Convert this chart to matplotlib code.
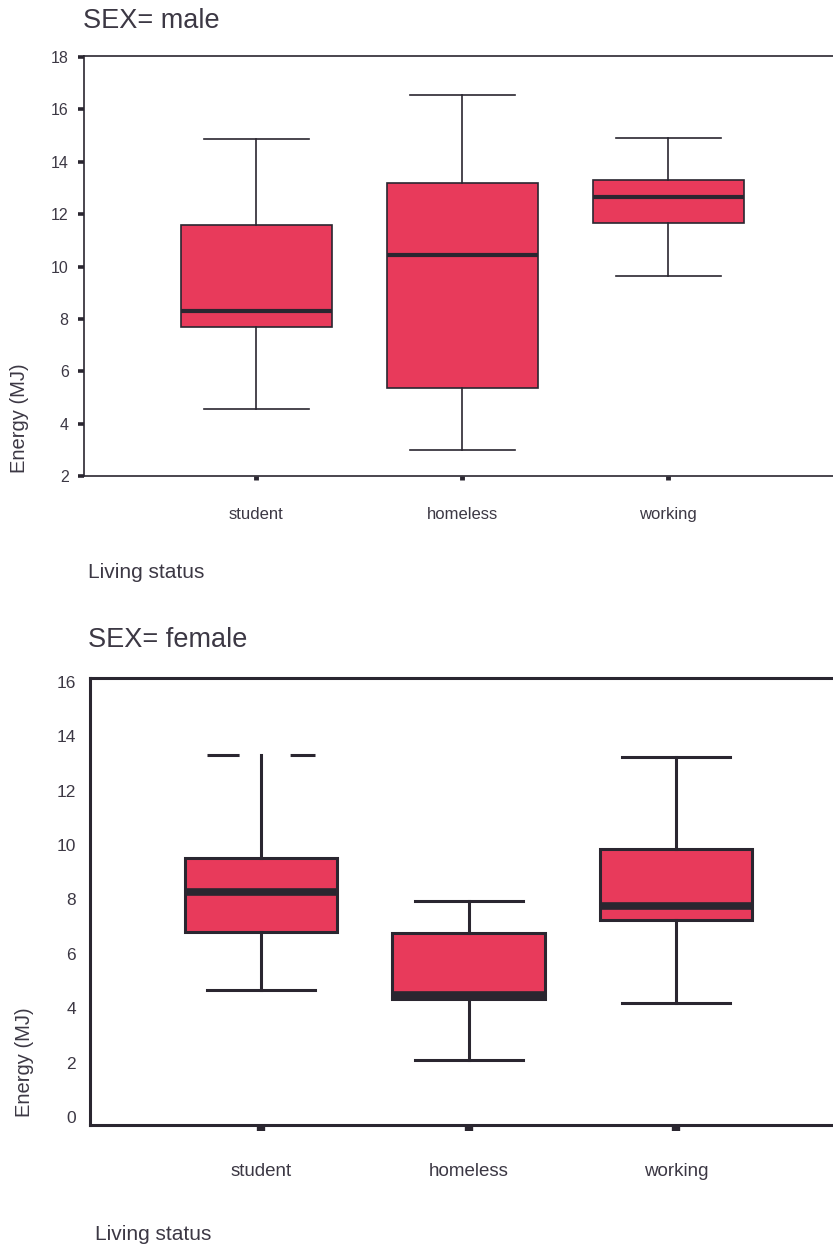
import matplotlib.pyplot as plt

# Energy intake (MJ) by living status, split by sex
categories = ["student", "homeless", "working"]

male_q1 = [7.70, 5.37, 11.66]
male_med = [8.30, 10.44, 12.66]
male_q3 = [11.60, 13.20, 13.30]
male_lo = [4.57, 3.00, 9.64]
male_hi = [14.87, 16.55, 14.90]

female_q1 = [6.80, 4.34, 7.24]
female_med = [8.27, 4.48, 7.76]
female_q3 = [9.52, 6.76, 9.85]
female_lo = [4.67, 2.10, 4.20]
female_hi = [13.30, 7.94, 13.24]

male_yticks = [2, 4, 6, 8, 10, 12, 14, 16, 18]
female_yticks = [0, 2, 4, 6, 8, 10, 12, 14, 16]

W, H, DPI = 833, 1246, 100
BOX_FILL = "#E83A5B"
INK = "#2a2630"
TEXT = "#3c3844"
FONT = "Liberation Sans"

plt.rcParams["font.family"] = [FONT, "DejaVu Sans"]

fig = plt.figure(figsize=(W / DPI, H / DPI), dpi=DPI)
fig.patch.set_facecolor("white")


def px_axes(left, top, right, bottom):
    return fig.add_axes([left / W, 1 - bottom / H, (right - left) / W, (bottom - top) / H])


def make_stats(q1, med, q3, lo, hi):
    return [dict(q1=a, med=b, q3=c, whislo=d, whishi=e, fliers=[])
            for a, b, c, d, e in zip(q1, med, q3, lo, hi)]


def draw_panel(ax, stats, lw, med_lw, capw):
    return ax.bxp(
        stats, positions=[1, 2, 3], widths=0.733, capwidths=capw,
        patch_artist=True, showfliers=False,
        boxprops=dict(facecolor=BOX_FILL, edgecolor=INK, linewidth=lw),
        medianprops=dict(color=INK, linewidth=med_lw, solid_capstyle="butt"),
        whiskerprops=dict(color=INK, linewidth=lw),
        capprops=dict(color=INK, linewidth=lw),
    )


# ---- male panel (frame runs to the right edge of the page) ----
axm = px_axes(84, 56, 835, 476)
draw_panel(axm, make_stats(male_q1, male_med, male_q3, male_lo, male_hi),
           lw=1.2, med_lw=3.0, capw=0.51)
axm.set_xlim(0.165, 3.81)
axm.set_ylim(2, 18.04)
axm.set_yticks(male_yticks)
axm.set_xticks([1, 2, 3], categories)
for s in axm.spines.values():
    s.set_color(INK)
    s.set_linewidth(1.2)
axm.tick_params(axis="y", direction="out", length=4, width=2.6, color=INK,
                pad=7, labelsize=11.5, labelcolor=TEXT)
axm.tick_params(axis="x", direction="out", length=3, width=3.5, color=INK,
                pad=19, labelsize=12, labelcolor=TEXT)

fig.text(83 / W, 1 - 21 / H, "SEX= male", fontsize=19.5, color=TEXT,
         ha="left", va="center")
fig.text(20 / W, 1 - 418 / H, "Energy (MJ)", fontsize=14.5, color=TEXT,
         rotation=90, ha="center", va="center")
fig.text(88 / W, 1 - 573 / H, "Living status", fontsize=15, color=TEXT,
         ha="left", va="center")

# ---- female panel (right side of the frame falls off the page) ----
axf = px_axes(90, 678, 850, 1125)
res = draw_panel(axf, make_stats(female_q1, female_med, female_q3, female_lo, female_hi),
                 lw=2.2, med_lw=5.5, capw=0.52)
# upper cap of the student group is drawn broken
res["caps"][1].set_linestyle((0, (10.5, 16.7, 8.2, 100)))
axf.set_xlim(0.176, 3.838)
axf.set_ylim(-0.29, 16.14)
axf.set_yticks(female_yticks)
axf.set_xticks([1, 2, 3], categories)
for s in axf.spines.values():
    s.set_color(INK)
    s.set_linewidth(2.2)
axf.tick_params(axis="y", length=0, pad=10, labelsize=12.5, labelcolor=TEXT)
axf.tick_params(axis="x", direction="out", length=4.5, width=6, color=INK,
                pad=23, labelsize=13.5, labelcolor=TEXT)

fig.text(88 / W, 1 - 640 / H, "SEX= female", fontsize=19.5, color=TEXT,
         ha="left", va="center")
fig.text(25 / W, 1 - 1062 / H, "Energy (MJ)", fontsize=14.5, color=TEXT,
         rotation=90, ha="center", va="center")
fig.text(95 / W, 1 - 1235 / H, "Living status", fontsize=15, color=TEXT,
         ha="left", va="center")

fig.savefig("out.png", dpi=DPI, facecolor="white")
